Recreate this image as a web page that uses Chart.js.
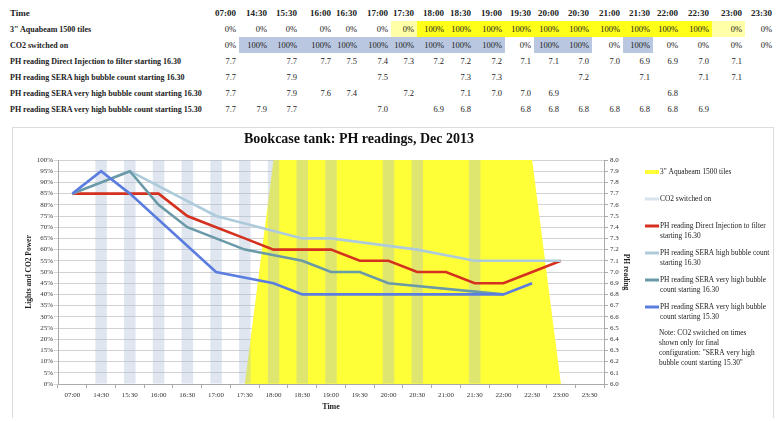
<!DOCTYPE html>
<html>
<head>
<meta charset="utf-8">
<script src="https://cdn.jsdelivr.net/npm/chart.js@4.4.0/dist/chart.umd.min.js"></script>
<style>
  body { margin: 0; width: 778px; height: 421px; background: #fff; overflow: hidden; position: relative;
         font-family: "Liberation Serif", "DejaVu Serif", serif; }
  #tbl { position: absolute; left: 0; top: 4px; width: 775px; border-collapse: collapse; table-layout: fixed; }
  #tbl td { padding: 0 3px 0 0; height: 16px; font-size: 8.5px; text-align: right; white-space: nowrap; color: #222; overflow: hidden; }
  #tbl tr.head td { height: 17px; font-weight: bold; font-size: 9px; }
  #tbl td.lbl { text-align: left; padding-left: 10px; font-weight: bold; font-size: 8px; }
  #tbl td.yel { background: #ffff1a; }
  #tbl td.pale { background: #ffffa8; }
  #tbl td.blu { background: #b9c8e0; }
  #frame { position: absolute; left: 12px; top: 127px; width: 760px; height: 290px;
           border: 1px solid #dcdcdc; border-bottom: none; }
  #chart { position: absolute; left: 0; top: 0; }
</style>
</head>
<body>
<table id="tbl"></table>
<div id="frame"><canvas id="chart" width="761" height="284"></canvas></div>
<script>
const times = ["07:00","14:30","15:30","16:00","16:30","17:00","17:30","18:00","18:30","19:00",
               "19:30","20:00","20:30","21:00","21:30","22:00","22:30","23:00","23:30"];

const aquaLabel = '3" Aquabeam 1500 tiles';
const aquabeam = [0,0,0,0,0,0,0,100,100,100,100,100,100,100,100,100,100,0,0];

const co2Label = "CO2 switched on";
const co2 = [0,100,100,100,100,100,100,100,100,100,0,100,100,0,100,0,0,0,0];

const phDirectLabel = "PH reading Direct Injection to filter starting 16.30";
const phDirect = [7.7,null,7.7,7.7,7.5,7.4,7.3,7.2,7.2,7.2,7.1,7.1,7.0,7.0,6.9,6.9,7.0,7.1,null];

const phHighLabel = "PH reading SERA high bubble count starting 16.30";
const phHigh = [7.7,null,7.9,null,null,7.5,null,null,7.3,7.3,null,null,7.2,null,7.1,null,7.1,7.1,null];

const phVeryHigh1630Label = "PH reading SERA very high bubble count starting 16.30";
const phVeryHigh1630 = [7.7,null,7.9,7.6,7.4,null,7.2,null,7.1,7.0,7.0,6.9,null,null,null,6.8,null,null,null];

const phVeryHigh1530Label = "PH reading SERA very high bubble count starting 15.30";
const phVeryHigh1530 = [7.7,7.9,7.7,null,null,7.0,null,6.9,6.8,null,6.8,6.8,6.8,6.8,6.8,6.8,6.9,null,null];

const noteText = 'Note: CO2 switched on times shown only for final configuration: "SERA very high bubble count starting 15.30"';

const colWidths = [209,30,31,30,34,26,31,26,30,27,31,29,28,30,31,30,28,31,33,30];

// ---- table above the chart
const tbl = document.getElementById("tbl");
const cg = document.createElement("colgroup");
colWidths.forEach(w => { const c = document.createElement("col"); c.style.width = w + "px"; cg.appendChild(c); });
tbl.appendChild(cg);

function addRow(label, vals, fmt, cls, rowClass) {
  const tr = document.createElement("tr");
  if (rowClass) tr.className = rowClass;
  const th = document.createElement("td");
  th.className = "lbl";
  th.textContent = label;
  tr.appendChild(th);
  vals.forEach((v, i) => {
    const td = document.createElement("td");
    td.textContent = v == null ? "" : fmt(v);
    if (cls) td.className = cls(v, i);
    tr.appendChild(td);
  });
  tbl.appendChild(tr);
}
addRow("Time", times, v => v, null, "head");
addRow(aquaLabel, aquabeam, v => v + "%", (v, i) =>
  v === 100 ? "yel" : ((aquabeam[i - 1] === 100 || aquabeam[i + 1] === 100) ? "pale" : ""));
addRow(co2Label, co2, v => v + "%", v => v === 100 ? "blu" : "");
addRow(phDirectLabel, phDirect, v => v.toFixed(1));
addRow(phHighLabel, phHigh, v => v.toFixed(1));
addRow(phVeryHigh1630Label, phVeryHigh1630, v => v.toFixed(1));
addRow(phVeryHigh1530Label, phVeryHigh1530, v => v.toFixed(1));

// ---- chart
Chart.defaults.font.family = '"Liberation Serif", "DejaVu Serif", serif';
Chart.defaults.color = "#333";

function wrap(ctx, text, maxW) {
  const words = text.split(" ");
  const lines = [];
  let cur = "";
  words.forEach(w => {
    const t = cur ? cur + " " + w : w;
    if (ctx.measureText(t).width > maxW && cur) { lines.push(cur); cur = w; }
    else cur = t;
  });
  if (cur) lines.push(cur);
  return lines;
}

const sideLegend = {
  id: "sideLegend",
  afterDraw(chart) {
    const ctx = chart.ctx;
    ctx.save();
    // title
    ctx.font = 'bold 14px "Liberation Serif", serif';
    ctx.fillStyle = "#111";
    ctx.textAlign = "center";
    ctx.textBaseline = "middle";
    ctx.fillText("Bookcase tank: PH readings, Dec 2013", 346, 11);

    // legend
    ctx.font = '7.4px "Liberation Serif", serif';
    ctx.textAlign = "left";
    let y = 44;
    chart.data.datasets.forEach(ds => {
      const col = ds.legendColor || ds.borderColor;
      ctx.strokeStyle = col;
      ctx.lineWidth = ds.legendWidth || 3;
      ctx.beginPath();
      ctx.moveTo(632, y);
      ctx.lineTo(646, y);
      ctx.stroke();
      ctx.fillStyle = "#222";
      wrap(ctx, ds.label, 116).forEach((ln, k) => ctx.fillText(ln, 647, y + k * 10));
      y += 27;
    });
    wrap(ctx, noteText, 98).forEach((ln, k) => ctx.fillText(ln, 646, 205 + k * 10));
    ctx.restore();
  }
};

const lineStyle = { type: "line", yAxisID: "y2", borderWidth: 2.6, pointRadius: 0, spanGaps: true, tension: 0, fill: false };

new Chart(document.getElementById("chart"), {
  data: {
    labels: times,
    datasets: [
      { type: "line", label: aquaLabel, data: aquabeam, yAxisID: "y", backgroundColor: "#ffff38",
        borderWidth: 0, pointRadius: 0, fill: "origin", tension: 0, order: 10,
        legendColor: "#ffff38", legendWidth: 4 },
      { type: "bar", label: co2Label, data: co2, yAxisID: "y", backgroundColor: "rgba(165,185,210,0.36)",
        barPercentage: 0.4, categoryPercentage: 1, order: 5, legendColor: "#d9e3ee" },
      Object.assign({ label: phDirectLabel, data: phDirect, borderColor: "#d4311f", order: 4 }, lineStyle),
      Object.assign({ label: phHighLabel, data: phHigh, borderColor: "#aecbdc", order: 3 }, lineStyle),
      Object.assign({ label: phVeryHigh1630Label, data: phVeryHigh1630, borderColor: "#6a9aa8", order: 2 }, lineStyle),
      Object.assign({ label: phVeryHigh1530Label, data: phVeryHigh1530, borderColor: "#5b7de0", order: 1 }, lineStyle)
    ]
  },
  options: {
    responsive: false,
    animation: false,
    plugins: { legend: { display: false }, tooltip: { enabled: false } },
    layout: { padding: { left: 0, right: 142, top: 32, bottom: 0 } },
    scales: {
      x: {
        offset: true,
        grid: { drawOnChartArea: false, offset: true, tickLength: 4, color: "#aaa" },
        border: { color: "#aaa" },
        ticks: { font: { size: 7 }, maxRotation: 0, autoSkip: false, padding: 3 },
        title: { display: true, text: "Time", font: { size: 8, weight: "bold" }, padding: { top: 0, bottom: 0 }, color: "#222" }
      },
      y: {
        position: "left", min: 0, max: 100,
        ticks: { stepSize: 5, autoSkip: false, font: { size: 7 }, padding: 1, callback: v => v + "%" },
        grid: { color: "#d2d2d2", tickLength: 4 },
        border: { color: "#aaa" },
        title: { display: true, text: "Lights and CO2 Power", font: { size: 7.5, weight: "bold" }, padding: { top: 12, bottom: 0 }, color: "#222" },
        afterFit: s => { s.width = 45; }
      },
      y2: {
        position: "right", min: 6, max: 8,
        ticks: { stepSize: 0.1, autoSkip: false, font: { size: 7 }, padding: 2, callback: v => v.toFixed(1) },
        grid: { drawOnChartArea: false, tickLength: 4, color: "#aaa" },
        border: { color: "#aaa" },
        title: { display: true, text: "PH reading", font: { size: 7.5, weight: "bold" }, padding: { top: 2, bottom: 0 }, color: "#222" },
        afterFit: s => { s.width = 28; }
      }
    }
  },
  plugins: [sideLegend]
});
</script>
</body>
</html>
